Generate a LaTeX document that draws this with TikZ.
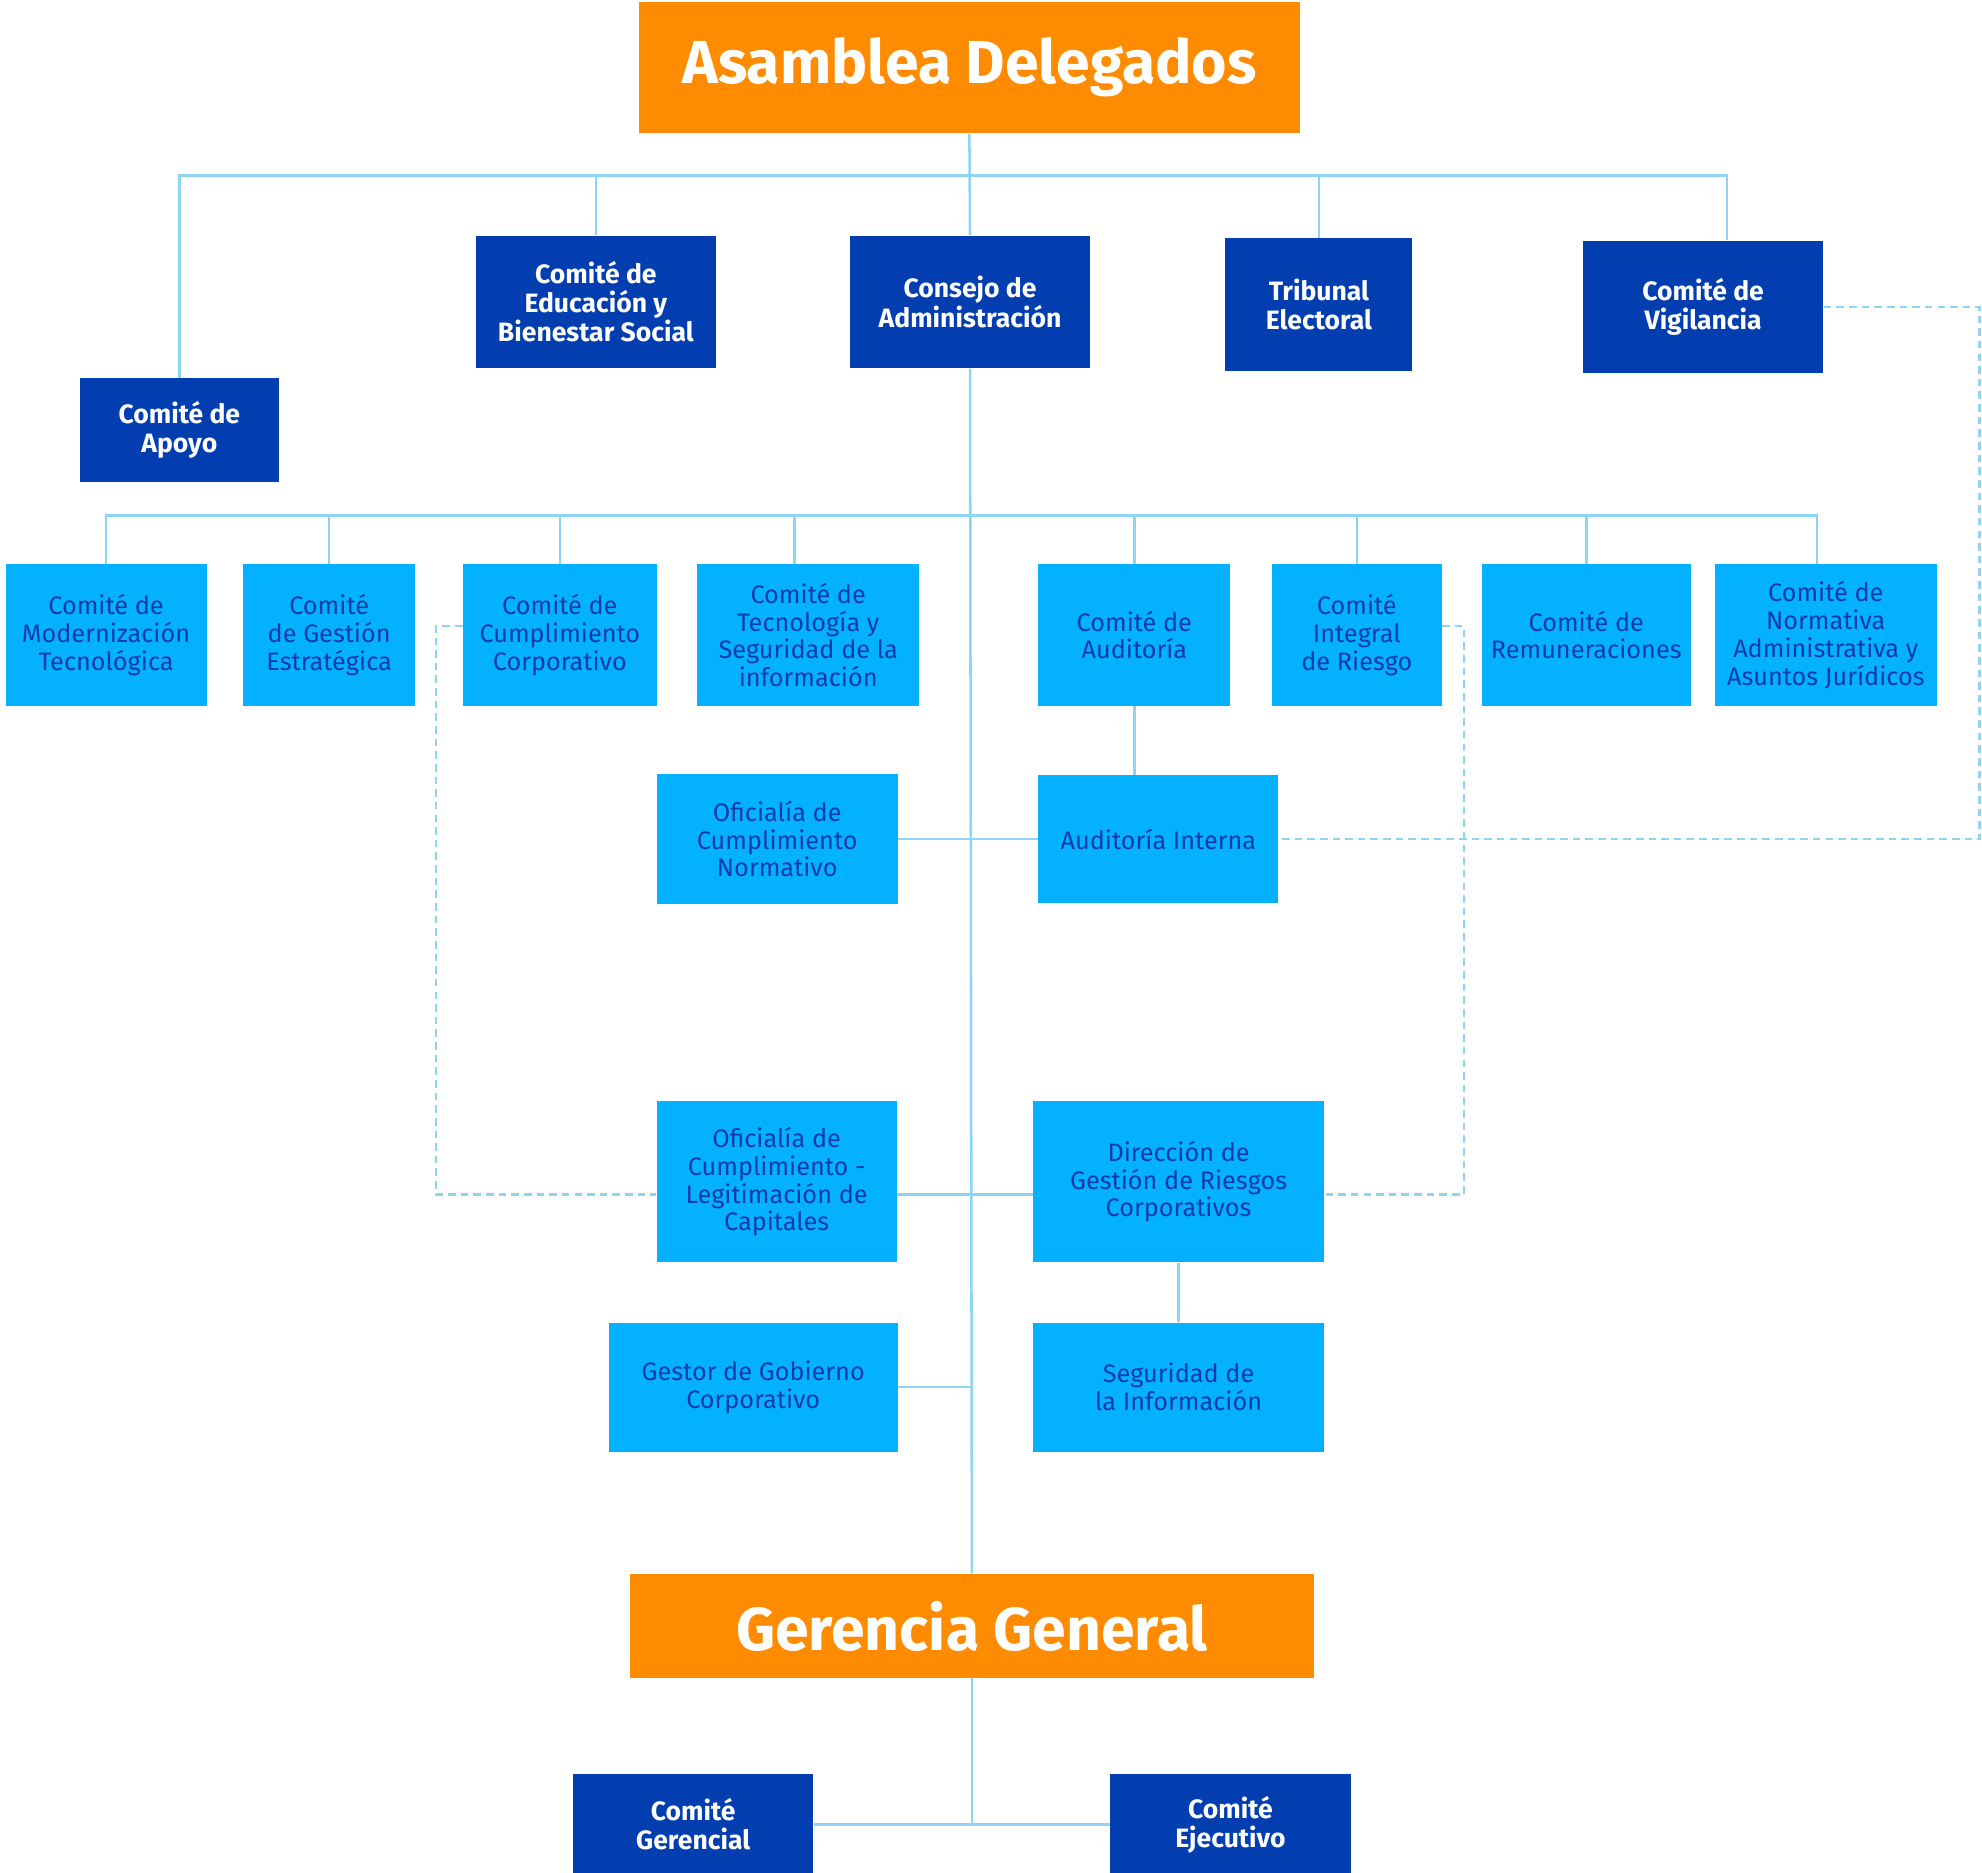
\documentclass[tikz,border=0pt]{standalone}
\usepackage{fontspec}
\setmainfont{Fira Sans}
\usetikzlibrary{positioning}
\definecolor{naranja}{HTML}{FF8C00}
\definecolor{azuloscuro}{HTML}{023EAF}
\definecolor{azulclaro}{HTML}{03B1FE}
\definecolor{textoazul}{HTML}{0B3CAA}
\definecolor{linea}{HTML}{8ED5F5}

\begin{document}
\begin{tikzpicture}[x=0.5pt,y=-0.5pt,
    conn/.style={draw=linea,line width=1pt},
    enlace/.style={draw=linea,line width=1pt,dash pattern=on 3pt off 2pt},
    cabeza/.style={fill=naranja,text=white,anchor=north west,inner sep=0pt,
      font=\fontsize{24}{28}\selectfont\bfseries},
    oscuro/.style={fill=azuloscuro,text=white,anchor=north west,inner sep=0pt,
      align=center,font=\fontsize{10.5}{11.5}\selectfont\bfseries},
    claro/.style={fill=azulclaro,text=textoazul,anchor=north west,inner sep=0pt,
      align=center,font=\fontsize{10}{11}\selectfont}]
  \useasboundingbox (0,0) rectangle (1568,1481);
  % cabeza
  \node[cabeza,minimum width=261.5pt,minimum height=52pt] (asamblea) at (505,1) {Asamblea Delegados};
  % comites del primer nivel
  \node[oscuro,minimum width=78.5pt,minimum height=41pt] (apoyo) at (63,299) {Comité de\\Apoyo};
  \node[oscuro,minimum width=95pt,minimum height=52.5pt] (educacion) at (376,186) {Comité de\\Educación y\\Bienestar Social};
  \node[oscuro,minimum width=95pt,minimum height=52.5pt] (consejo) at (672,186) {Consejo de\\Administración};
  \node[oscuro,minimum width=74pt,minimum height=52.5pt] (tribunal) at (969,188) {Tribunal\\Electoral};
  \node[oscuro,minimum width=95pt,minimum height=52.5pt] (vigilancia) at (1252,190) {Comité de\\Vigilancia};
  % comites del consejo
  \node[claro,minimum width=79.5pt,minimum height=56pt] (moderna) at (4,446) {Comité de\\Modernización\\Tecnológica};
  \node[claro,minimum width=68pt,minimum height=56pt] (gestion) at (192,446) {Comité\\de Gestión\\Estratégica};
  \node[claro,minimum width=76.5pt,minimum height=56pt] (cumpl) at (366,446) {Comité de\\Cumplimiento\\Corporativo};
  \node[claro,minimum width=88pt,minimum height=56pt] (tecno) at (551,446) {Comité de\\Tecnología y\\Seguridad de la\\información};
  \node[claro,minimum width=76pt,minimum height=56pt] (auditoria) at (821,446) {Comité de\\Auditoría};
  \node[claro,minimum width=67pt,minimum height=56pt] (riesgo) at (1006,446) {Comité\\Integral\\de Riesgo};
  \node[claro,minimum width=82.5pt,minimum height=56pt] (remun) at (1172,446) {Comité de\\Remuneraciones};
  \node[claro,minimum width=88pt,minimum height=56pt] (normativa) at (1356,446) {Comité de\\Normativa\\Administrativa y\\Asuntos Jurídicos};
  % oficinas
  \node[claro,minimum width=95.5pt,minimum height=51.5pt] (ofnorm) at (519,612) {Oficialía de\\Cumplimiento\\Normativo};
  \node[claro,minimum width=95pt,minimum height=50.5pt] (audint) at (821,613) {Auditoría Interna};
  \node[claro,minimum width=95pt,minimum height=63.5pt] (ofleg) at (519,871) {Oficialía de\\Cumplimiento -\\Legitimación de\\Capitales};
  \node[claro,minimum width=115pt,minimum height=63.5pt] (direccion) at (817,871) {Dirección de\\Gestión de Riesgos\\Corporativos};
  \node[claro,minimum width=114.5pt,minimum height=51pt] (gestor) at (481,1046) {Gestor de Gobierno\\Corporativo};
  \node[claro,minimum width=115pt,minimum height=51pt] (seguridad) at (817,1046) {Seguridad de\\la Información};
  % gerencia
  \node[cabeza,minimum width=270.5pt,minimum height=41pt] (gerencia) at (498,1245) {Gerencia General};
  \node[oscuro,minimum width=95pt,minimum height=40pt] (gerencial) at (453,1403) {Comité\\Gerencial};
  \node[oscuro,minimum width=95pt,minimum height=40pt] (ejecutivo) at (878,1403) {Comité\\Ejecutivo};

  \coordinate (bus1) at (767,139);
  \coordinate (bus2) at (767,408);
  \coordinate (esqder) at (1566,0);
  \coordinate (esqcumpl) at (345,0);
  \coordinate (esqriesgo) at (1158,0);
  \coordinate (legin) at ([yshift=-5pt]ofleg.west);
  \coordinate (legout) at ([yshift=-5pt]ofleg.east);
  \coordinate (dirin) at ([yshift=-5pt]direccion.west);
  \coordinate (dirout) at ([yshift=-5pt]direccion.east);

  % lineas
  \draw[conn] (asamblea.south) -- (consejo.north);
  \draw[conn] (apoyo.north) |- (bus1) -| ([xshift=9.5pt]vigilancia.north);
  \draw[conn] (educacion.north) -- (educacion.north |- bus1);
  \draw[conn] (tribunal.north) -- (tribunal.north |- bus1);
  \draw[conn] (consejo.south) -- (gerencia.north);
  \draw[conn] (moderna.north) |- (bus2) -| ([xshift=-3.5pt]normativa.north);
  \foreach \n in {gestion,cumpl,auditoria,riesgo,remun}
    \draw[conn] (\n.north) -- (\n.north |- bus2);
  \draw[conn] ([xshift=-5.5pt]tecno.north) -- ([xshift=-5.5pt]tecno.north |- bus2);
  \draw[conn] (auditoria.south) -- (auditoria.south |- audint.north);
  \draw[conn] (ofnorm.east) -- (audint.west);
  \draw[conn] (legout) -- (dirin);
  \draw[conn] (direccion.south) -- (seguridad.north);
  \draw[conn] (gestor.east) -- (gestor.east -| consejo.south);
  \draw[conn] (gerencia.south) -- (gerencia.south |- gerencial.east);
  \draw[conn] (gerencial.east) -- (ejecutivo.west);
  % lineas punteadas
  \draw[enlace] (vigilancia.east) -| (esqder |- audint.east) -- (audint.east);
  \draw[enlace] ([yshift=3.5pt]cumpl.west) -| (esqcumpl |- legin) -- (legin);
  \draw[enlace] ([yshift=3.5pt]riesgo.east) -| (esqriesgo |- dirout) -- (dirout);
\end{tikzpicture}
\end{document}
